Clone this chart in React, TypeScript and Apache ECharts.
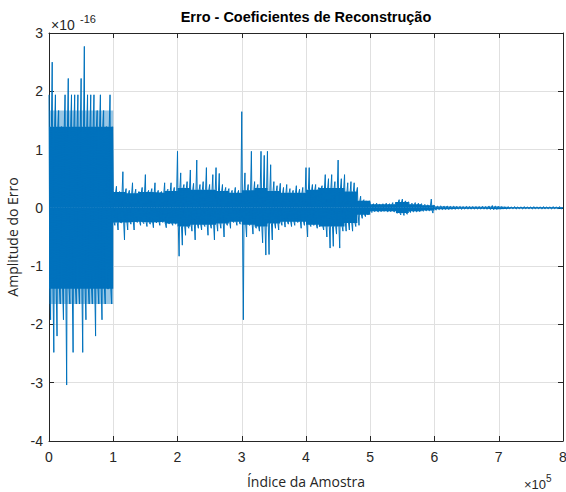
import React, { useEffect, useRef } from "react";
import * as echarts from "echarts";

// Sample-bin width (samples) and envelope values (units of 1e-16)
const BIN = 5000;
const upperEnvelope = [
  1.94, 2.5, 1.94, 1.67, 1.39, 1.94, 2.22, 1.94, 1.94, 1.94, 2.22, 2.77, 1.94, 1.94, 1.94, 1.67, 1.94, 1.67, 1.39, 1.94,
  0.3, 0.37, 0.28, 0.62, 0.33, 0.3, 0.43, 0.32, 0.28, 0.35, 0.57, 0.3, 0.33, 0.43, 0.3, 0.28, 0.43, 0.32, 0.43, 0.35,
  0.97, 0.6, 0.4, 0.45, 0.65, 0.42, 0.82, 0.4, 0.45, 0.69, 0.4, 0.57, 0.69, 0.59, 0.4, 0.35, 0.33, 0.3, 0.35, 0.3,
  1.65, 0.6, 0.4, 0.97, 0.45, 0.4, 0.97, 0.9, 0.97, 0.74, 0.45, 0.38, 0.42, 0.35, 0.4, 0.33, 0.3, 0.38, 0.32, 0.35,
  0.69, 0.69, 0.4, 0.4, 0.35, 0.38, 0.57, 0.5, 0.57, 0.45, 0.82, 0.5, 0.57, 0.43, 0.45, 0.43, 0.35, 0.2, 0.14, 0.1,
  0.08, 0.07, 0.08, 0.06, 0.07, 0.08, 0.07, 0.09, 0.1, 0.14, 0.15, 0.12, 0.1, 0.08, 0.09, 0.08, 0.07, 0.06, 0.05, 0.15,
  0.04, 0.03, 0.035, 0.03, 0.03, 0.025, 0.03, 0.025, 0.025, 0.02, 0.025, 0.02, 0.02, 0.02, 0.02, 0.025, 0.02, 0.03, 0.04, 0.03,
  0.02, 0.02, 0.015, 0.02, 0.015, 0.02, 0.015, 0.015, 0.02, 0.015, 0.015, 0.02, 0.015, 0.015, 0.02, 0.015, 0.015, 0.02, 0.015, 0.02,
];
const lowerEnvelope = [
  -1.92, -2.48, -2.2, -1.65, -1.92, -3.04, -1.65, -2.48, -1.65, -1.65, -2.48, -1.92, -1.65, -1.65, -2.2, -1.65, -1.92, -1.65, -1.39, -1.65,
  -0.3, -0.38, -0.26, -0.55, -0.38, -0.28, -0.38, -0.25, -0.3, -0.27, -0.32, -0.28, -0.34, -0.26, -0.3, -0.25, -0.34, -0.27, -0.3, -0.28,
  -0.83, -0.64, -0.47, -0.35, -0.4, -0.55, -0.35, -0.38, -0.32, -0.47, -0.35, -0.55, -0.4, -0.35, -0.5, -0.3, -0.35, -0.25, -0.3, -0.28,
  -1.92, -0.5, -0.3, -0.45, -0.35, -0.4, -0.6, -0.81, -0.8, -0.55, -0.35, -0.38, -0.3, -0.33, -0.28, -0.32, -0.3, -0.25, -0.35, -0.3,
  -0.5, -0.32, -0.3, -0.35, -0.3, -0.38, -0.5, -0.69, -0.66, -0.45, -0.69, -0.4, -0.4, -0.38, -0.4, -0.32, -0.3, -0.18, -0.15, -0.1,
  -0.08, -0.06, -0.07, -0.06, -0.05, -0.07, -0.06, -0.07, -0.09, -0.12, -0.13, -0.11, -0.08, -0.07, -0.07, -0.06, -0.06, -0.05, -0.05, -0.09,
  -0.04, -0.03, -0.03, -0.025, -0.03, -0.025, -0.025, -0.02, -0.025, -0.02, -0.02, -0.02, -0.02, -0.02, -0.02, -0.02, -0.02, -0.025, -0.03, -0.025,
  -0.02, -0.015, -0.02, -0.015, -0.015, -0.02, -0.015, -0.02, -0.015, -0.015, -0.02, -0.015, -0.015, -0.02, -0.015, -0.015, -0.02, -0.015, -0.015, -0.02,
];
// Dense-core amplitude per 20000 samples (units of 1e-16)
const CORE_BIN = 20000;
const coreUpper = [
  1.39, 1.39, 1.39, 1.39, 1.39,
  0.27, 0.25, 0.27, 0.26, 0.29,
  0.34, 0.31, 0.31, 0.29, 0.26,
  0.3, 0.34, 0.29, 0.26, 0.26,
  0.31, 0.34, 0.34, 0.28, 0.12,
  0.06, 0.06, 0.1, 0.06, 0.045,
  0.022, 0.017, 0.017, 0.017, 0.022,
  0.013, 0.013, 0.013, 0.013, 0.013,
];
const coreLower = [
  -1.39, -1.39, -1.39, -1.39, -1.39,
  -0.25, -0.24, -0.25, -0.24, -0.27,
  -0.32, -0.29, -0.29, -0.27, -0.24,
  -0.29, -0.32, -0.27, -0.24, -0.24,
  -0.29, -0.32, -0.32, -0.26, -0.12,
  -0.06, -0.06, -0.09, -0.06, -0.045,
  -0.022, -0.017, -0.017, -0.017, -0.022,
  -0.013, -0.013, -0.013, -0.013, -0.013,
];
// Semi-dense fringe level of the first 1e5 samples
const fringeUpper = [1.67, 1.67, 1.67, 1.67, 1.67];
const fringeLower = [-1.65, -1.65, -1.65, -1.65, -1.65];

const X_MIN = 0;
const X_MAX = 800000;
const X_STEP = 100000;
const Y_MIN = -4;
const Y_MAX = 3;
const Y_STEP = 1;

const TITLE = "Erro - Coeficientes de Reconstrução";
const X_NAME = "Índice da Amostra";
const Y_NAME = "Amplitude do Erro";
const LINE_COLOR = "#0072BD";

export default function App() {
  const ref = useRef<HTMLDivElement>(null);
  useEffect(() => {
    if (!ref.current) return;
    const chart = echarts.init(ref.current, null, { renderer: "svg" });
    const points: [number, number][] = [];
    upperEnvelope.forEach((u, i) => {
      const x0 = i * BIN;
      const k = Math.floor(x0 / CORE_BIN);
      points.push([x0, u]);
      points.push([x0 + BIN / 4, coreLower[k]]);
      points.push([x0 + BIN / 2, lowerEnvelope[i]]);
      points.push([x0 + (3 * BIN) / 4, coreUpper[k]]);
    });
    const stepped = (arr: number[]) => {
      const d: [number, number][] = arr.map((v, k) => [k * CORE_BIN, v]);
      d.push([arr.length * CORE_BIN, arr[arr.length - 1]]);
      return d;
    };

    const axisColor = "#262626";
    const tickFont = { color: axisColor, fontSize: 14, fontFamily: "Liberation Sans, Arial, sans-serif" };
    const bandSeries = (data: [number, number][], opacity: number) => ({
      type: "line",
      xAxisIndex: 0,
      yAxisIndex: 0,
      data,
      step: "end",
      showSymbol: false,
      symbol: "none",
      lineStyle: { width: 0, color: LINE_COLOR },
      areaStyle: { color: LINE_COLOR, opacity, origin: 0 },
      silent: true,
    });
    chart.setOption({
      animation: false,
      backgroundColor: "#ffffff",
      grid: { left: 49, right: 3, top: 33, bottom: 51, containLabel: false, outerBoundsMode: "none" },
      xAxis: [
        {
          type: "value",
          min: X_MIN,
          max: X_MAX,
          interval: X_STEP,
          position: "bottom",
          axisLine: { show: true, onZero: false, lineStyle: { color: axisColor, width: 1 } },
          axisTick: { show: true, inside: true, length: 5, lineStyle: { color: axisColor } },
          axisLabel: { ...tickFont, margin: 9, formatter: (v: number) => String(v / 1e5) },
          splitLine: { show: true, lineStyle: { color: "#e0e0e0", width: 1 } },
          name: X_NAME,
          nameLocation: "middle",
          nameGap: 33,
          nameTextStyle: { color: axisColor, fontSize: 14, fontFamily: "Open Sans, Noto Sans, sans-serif" },
        },
        {
          type: "value",
          min: X_MIN,
          max: X_MAX,
          interval: X_STEP,
          position: "top",
          axisLine: { show: true, onZero: false, lineStyle: { color: axisColor, width: 1 } },
          axisTick: { show: true, inside: true, length: 5, lineStyle: { color: axisColor } },
          axisLabel: { show: false },
          splitLine: { show: false },
        },
      ],
      yAxis: [
        {
          type: "value",
          min: Y_MIN,
          max: Y_MAX,
          interval: Y_STEP,
          position: "left",
          axisLine: { show: true, onZero: false, lineStyle: { color: axisColor, width: 1 } },
          axisTick: { show: true, inside: true, length: 5, lineStyle: { color: axisColor } },
          axisLabel: { ...tickFont, margin: 6 },
          splitLine: { show: true, lineStyle: { color: "#e0e0e0", width: 1 } },
          name: Y_NAME,
          nameLocation: "middle",
          nameGap: 28,
          nameRotate: 90,
          nameTextStyle: { color: axisColor, fontSize: 14, fontFamily: "Open Sans, Noto Sans, sans-serif" },
        },
        {
          type: "value",
          min: Y_MIN,
          max: Y_MAX,
          interval: Y_STEP,
          position: "right",
          axisLine: { show: true, onZero: false, lineStyle: { color: axisColor, width: 1 } },
          axisTick: { show: true, inside: true, length: 5, lineStyle: { color: axisColor } },
          axisLabel: { show: false },
          splitLine: { show: false },
        },
      ],
      graphic: [
        {
          type: "text",
          x: 306,
          y: 17,
          style: {
            text: TITLE,
            fill: "#000000",
            font: "bold 14.5px Liberation Sans, Arial, sans-serif",
            textAlign: "center",
            textVerticalAlign: "middle",
          },
        },
        {
          type: "text",
          x: 51,
          y: 25,
          style: { text: "×10", fill: axisColor, font: "14px Liberation Sans, Arial, sans-serif", textVerticalAlign: "middle" },
        },
        {
          type: "text",
          x: 80,
          y: 19,
          style: { text: "-16", fill: axisColor, font: "11px Liberation Sans, Arial, sans-serif", textVerticalAlign: "middle" },
        },
        {
          type: "text",
          x: 524,
          y: 484,
          style: { text: "×10", fill: axisColor, font: "13px Liberation Sans, Arial, sans-serif", textVerticalAlign: "middle" },
        },
        {
          type: "text",
          x: 546,
          y: 478,
          style: { text: "5", fill: axisColor, font: "10px Liberation Sans, Arial, sans-serif", textVerticalAlign: "middle" },
        },
      ],
      series: [
        bandSeries(stepped(fringeUpper), 0.4),
        bandSeries(stepped(fringeLower), 0.4),
        bandSeries(stepped(coreUpper), 1),
        bandSeries(stepped(coreLower), 1),
        {
          type: "line",
          xAxisIndex: 0,
          yAxisIndex: 0,
          data: points,
          showSymbol: false,
          symbol: "none",
          lineStyle: { color: LINE_COLOR, width: 1 },
          itemStyle: { color: LINE_COLOR },
          silent: true,
        },
      ],
    });
    return () => chart.dispose();
  }, []);
  return (
    <div
      ref={ref}
      style={{ position: "fixed", left: 0, top: 0, width: 566, height: 492 }}
    />
  );
}
